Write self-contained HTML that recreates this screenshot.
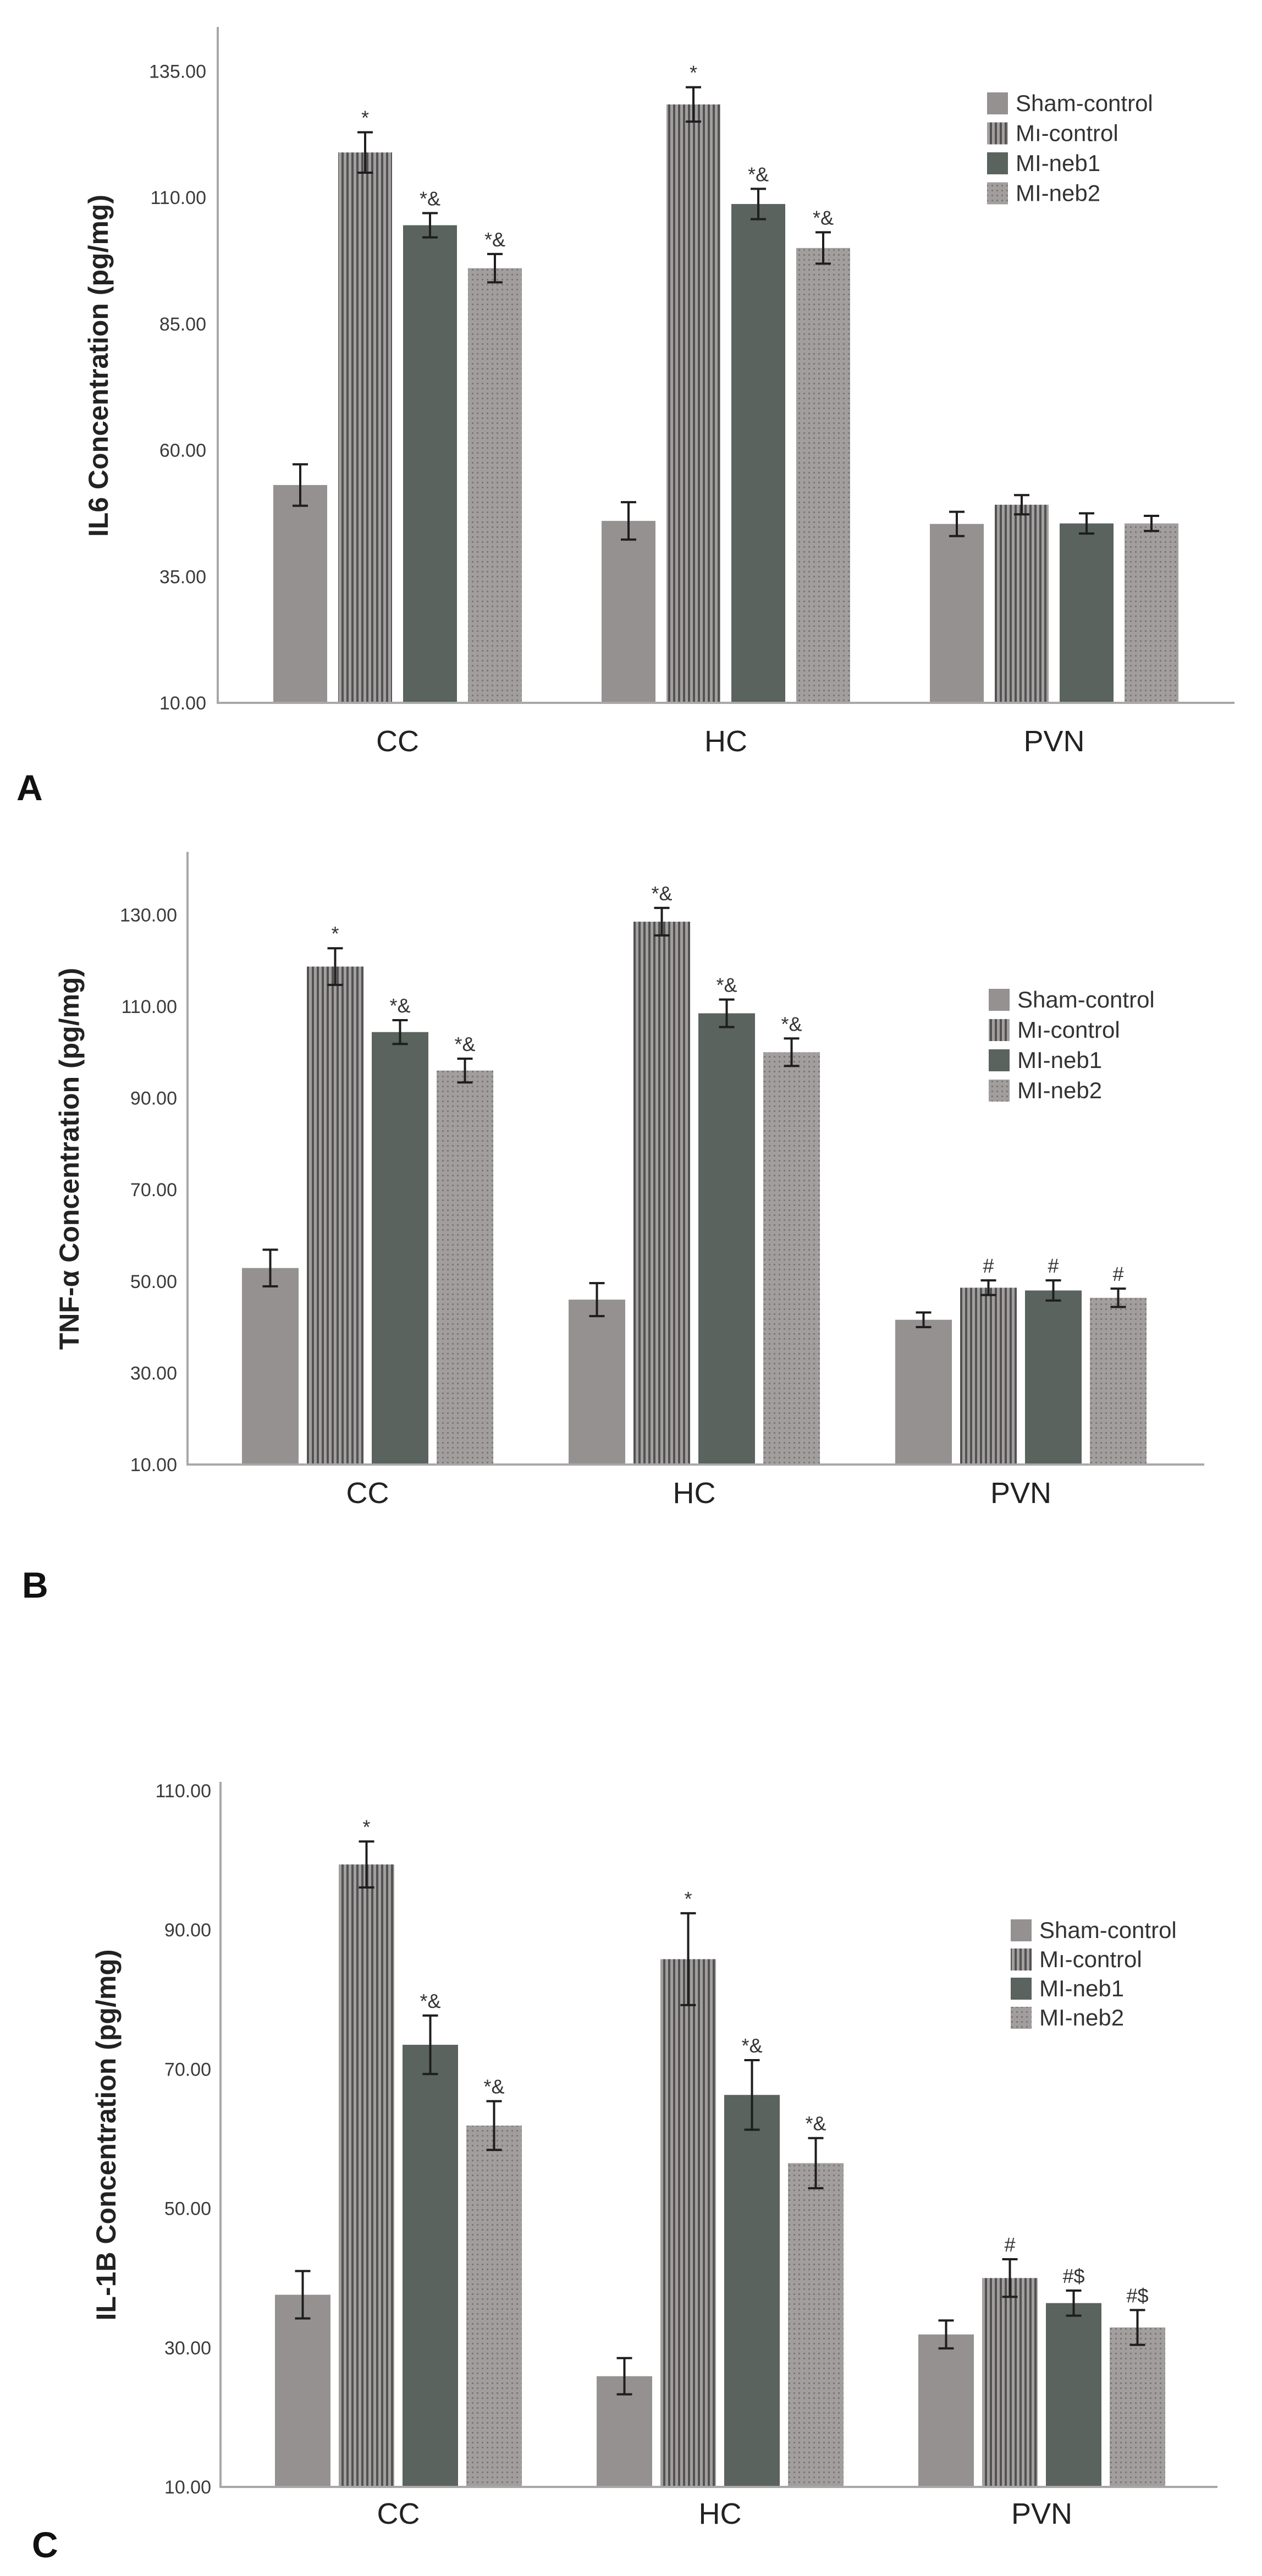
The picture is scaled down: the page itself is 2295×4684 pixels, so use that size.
<!DOCTYPE html>
<html><head><meta charset="utf-8"><style>
html,body{margin:0;padding:0;background:#fff;}
svg{display:block;}
text{font-family:"Liberation Sans",sans-serif;}
</style></head><body>
<svg id="fig" width="2295" height="4684" viewBox="0 0 2295 4684" xmlns="http://www.w3.org/2000/svg">
<defs>
<pattern id="stripes" width="9" height="10" patternUnits="userSpaceOnUse">
<rect width="9" height="10" fill="#a39f9f"/><rect x="0" width="4" height="10" fill="#525252"/>
</pattern>
<pattern id="dots" width="9" height="9" patternUnits="userSpaceOnUse">
<rect width="9" height="9" fill="#a29e9e"/><rect x="3" y="3" width="3" height="3" fill="#7b7777"/>
</pattern>
</defs>
</svg>
<script>
const categories = ["CC", "HC", "PVN"];
const seriesNames = ["Sham-control", "Mı-control", "MI-neb1", "MI-neb2"];

const il6Ticks = [10, 35, 60, 85, 110, 135];
const il6Means = [[53.1, 46, 45.4], [118.9, 128.4, 49.2], [104.5, 108.7, 45.5], [96, 100, 45.5]];
const il6Errors = [[4.1, 3.7, 2.4], [4, 3.4, 1.9], [2.4, 3, 2], [2.8, 3.1, 1.5]];
const il6Marks = [["", "", ""], ["*", "*", ""], ["*&", "*&", ""], ["*&", "*&", ""]];

const tnfTicks = [10, 30, 50, 70, 90, 110, 130];
const tnfMeans = [[52.9, 46, 41.6], [118.7, 128.5, 48.6], [104.4, 108.5, 48], [96, 100, 46.4]];
const tnfErrors = [[4, 3.6, 1.6], [4, 3, 1.6], [2.6, 3, 2.2], [2.6, 3, 2]];
const tnfMarks = [["", "", ""], ["*", "*&", "#"], ["*&", "*&", "#"], ["*&", "*&", "#"]];

const il1bTicks = [10, 30, 50, 70, 90, 110];
const il1bMeans = [[37.6, 25.9, 31.9], [99.4, 85.8, 40], [73.5, 66.3, 36.4], [61.9, 56.5, 32.9]];
const il1bErrors = [[3.4, 2.6, 2], [3.3, 6.6, 2.7], [4.2, 5, 1.8], [3.5, 3.6, 2.5]];
const il1bMarks = [["", "", ""], ["*", "*", "#"], ["*&", "*&", "#$"], ["*&", "*&", "#$"]];

const fills = ["#959191", "url(#stripes)", "#5a635e", "url(#dots)"];
const NS = "http://www.w3.org/2000/svg";
const svg = document.getElementById("fig");

function mk(tag, attrs, parent, txt) {
  const e = document.createElementNS(NS, tag);
  for (const k in attrs) e.setAttribute(k, attrs[k]);
  if (txt !== undefined) e.textContent = txt;
  parent.appendChild(e);
  return e;
}

function drawPanel(p, ticks, means, errors, marks) {
  const g = mk("g", {}, svg);
  
  
  const y = v => p.base - (v - ticks[0]) * p.ppu;
  ticks.forEach(t => {
    const tl = mk("text", {x: p.tickX, y: y(t) + 12, "text-anchor": "end", "font-size": 34, fill: "#3a3a3a"}, g, t.toFixed(2));
    
    
  });
  for (let s = 0; s < means.length; s++) {
    for (let c = 0; c < categories.length; c++) {
      const x = p.x0 + c * p.group + s * p.step;
      const v = means[s][c];
      const r = mk("rect", {x: x, y: y(v), width: p.bw, height: p.base - y(v), fill: fills[s]}, g);
      
      
      const cx = x + p.bw / 2;
      const yt = y(v + errors[s][c]), yb = y(v - errors[s][c]);
      const eb = mk("path", {d: `M${cx} ${yt}V${yb}M${cx-14} ${yt}H${cx+14}M${cx-14} ${yb}H${cx+14}`, stroke: "#1e1e1e", "stroke-width": 4, fill: "none"}, g);
      
      
      if (marks[s][c]) {
        const m = mk("text", {x: cx, y: yt - 14, "text-anchor": "middle", "font-size": 36, fill: "#333"}, g, marks[s][c]);
        
        
      }
    }
  }
  const ax = mk("path", {d: `M${p.ax} ${p.top}V${p.base}H${p.right}`, stroke: "#a8a8a8", "stroke-width": 4, fill: "none"}, g);
  
  
  categories.forEach((c, i) => {
    const cx = p.x0 + i * p.group + (3 * p.step + p.bw) / 2;
    const t = mk("text", {x: cx, y: p.catY, "text-anchor": "middle", "font-size": 54, fill: "#222"}, g, c);
    
    
  });
  const yt = mk("text", {x: 0, y: 0, transform: `translate(${p.titleX},${p.titleY}) rotate(-90)`, "text-anchor": "middle", "font-size": 50, "font-weight": "bold", fill: "#222"}, g, p.title);
  
  
  seriesNames.forEach((n, i) => {
    const ly = p.legY + i * p.legStep;
    const b = mk("rect", {x: p.legX, y: ly - 19, width: 38, height: 40, fill: fills[i]}, g);
    
    
    const t = mk("text", {x: p.legX + 52, y: ly + 15, "font-size": 42, fill: "#333"}, g, n);
    
    
  });
  const L = mk("text", {x: p.letterX, y: p.letterY, "font-size": 66, "font-weight": "bold", fill: "#111"}, g, p.letter);
  
  
}

drawPanel({id: "il6", ax: 396, top: 49, base: 1278, right: 2245, ppu: 9.19, tickX: 375,
  x0: 497, group: 597, step: 118, bw: 98, catY: 1366, title: "IL6 Concentration (pg/mg)", titleX: 196, titleY: 665,
  legX: 1795, legY: 187, legStep: 54.5, letter: "A", letterX: 30, letterY: 1455}, il6Ticks, il6Means, il6Errors, il6Marks);

drawPanel({id: "tnf", ax: 341, top: 1549, base: 2663, right: 2190, ppu: 8.33, tickX: 322,
  x0: 440, group: 594, step: 118, bw: 103, catY: 2733, title: "TNF-α Concentration (pg/mg)", titleX: 143, titleY: 2107,
  legX: 1798, legY: 1817, legStep: 55, letter: "B", letterX: 40, letterY: 2905}, tnfTicks, tnfMeans, tnfErrors, tnfMarks);

drawPanel({id: "il1b", ax: 401, top: 3240, base: 4522, right: 2214, ppu: 12.66, tickX: 384,
  x0: 500, group: 585, step: 116, bw: 101, catY: 4589, title: "IL-1B Concentration (pg/mg)", titleX: 210, titleY: 3882,
  legX: 1838, legY: 3509, legStep: 53, letter: "C", letterX: 58, letterY: 4650}, il1bTicks, il1bMeans, il1bErrors, il1bMarks);
</script>
</body></html>
